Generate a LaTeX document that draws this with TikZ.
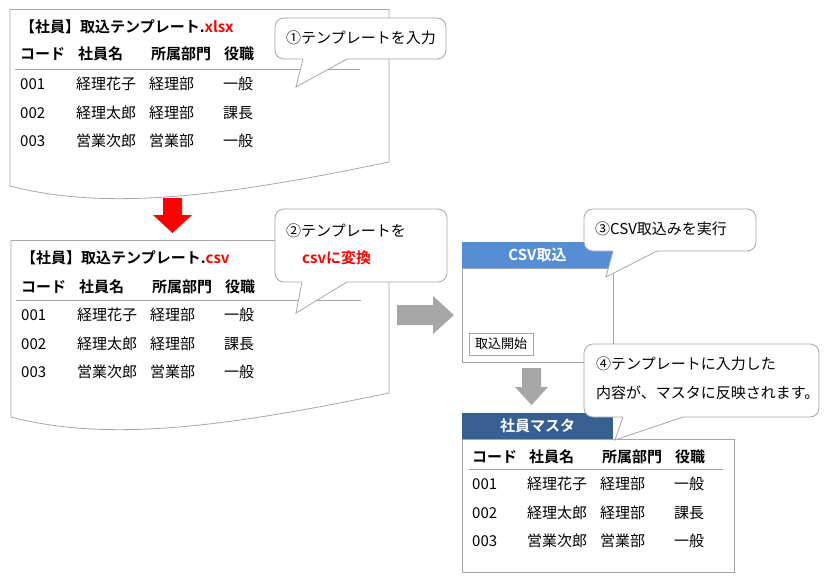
\documentclass[tikz,border=0pt]{standalone}
\usepackage{fontspec}
\setmainfont{Noto Sans CJK JP}[BoldFont={Noto Sans CJK JP Bold}]
\usepackage{tikz}
\usetikzlibrary{positioning}
\definecolor{linegray}  {RGB}{166, 166, 166}
\definecolor{arrowgray} {RGB}{166, 166, 166}
\definecolor{csvblue}   {RGB}{ 85, 142, 213}
\definecolor{masterblue}{RGB}{ 55,  96, 146}
\definecolor{xred}      {RGB}{255,   0,   0}
\tikzset{
	sheet/.style={draw=linegray, fill=white, line width=0.8pt},
	balloon/.style={draw=linegray, fill=white, line width=0.8pt, rounded corners=9pt},
	tail/.style={draw=linegray, line width=0.8pt},
	cell/.style={anchor=west, inner sep=0pt, text height=12pt, text depth=2pt, font=\fontsize{15}{18}\selectfont},
	headcell/.style={cell, font=\fontsize{15}{18}\selectfont\bfseries},
	panelhead/.style={minimum width=151pt, minimum height=26pt, inner sep=0pt, text=white, font=\fontsize{15}{18}\selectfont\bfseries},
}

\begin{document}
\begin{tikzpicture}[x=1pt,y=-1pt]
				\useasboundingbox[fill=white] (0,0) rectangle (828,581);
				% xlsx template
				\draw[sheet] (10,9.5)--(389,9.5)--(389,162) .. controls (230,195) and (110,212) .. (10,186)--cycle;
				\node[headcell] (xtitle) at (20,27) {【社員】取込テンプレート.\textcolor{xred}{xlsx}};
				\node[headcell] (xh1) at (20,54) {コード};
				\node[headcell] (xh2) at (78,54) {社員名};
				\node[headcell] (xh3) at (151,54) {所属部門};
				\node[headcell] (xh4) at (224,54) {役職};
				\draw[linegray] (15,69)--(360,69);
				\node[cell] (xa1) at (20,84) {001};
				\node[cell] (xa2) at (76,84) {経理花子};
				\node[cell] (xa3) at (149,84) {経理部};
				\node[cell] (xa4) at (223,84) {一般};
				\node[cell] (xb1) at (20,113) {002};
				\node[cell] (xb2) at (76,113) {経理太郎};
				\node[cell] (xb3) at (149,113) {経理部};
				\node[cell] (xb4) at (223,113) {課長};
				\node[cell] (xc1) at (20,141) {003};
				\node[cell] (xc2) at (76,141) {営業次郎};
				\node[cell] (xc3) at (149,141) {営業部};
				\node[cell] (xc4) at (223,141) {一般};
				% red arrow
				\fill[xred] (163,198)--(182,198)--(182,215)--(192,215)--(172.5,233)--(153,215)--(163,215)--cycle;
				% csv template
				\draw[sheet] (11,240.5)--(389,240.5)--(389,393) .. controls (230,426) and (110,443) .. (11,417)--cycle;
				\node[headcell] (ctitle) at (21,258) {【社員】取込テンプレート.\textcolor{xred}{csv}};
				\node[headcell] (ch1) at (21,287) {コード};
				\node[headcell] (ch2) at (79,287) {社員名};
				\node[headcell] (ch3) at (152,287) {所属部門};
				\node[headcell] (ch4) at (225,287) {役職};
				\draw[linegray] (16,300)--(361,300);
				\node[cell] (ca1) at (21,315) {001};
				\node[cell] (ca2) at (77,315) {経理花子};
				\node[cell] (ca3) at (150,315) {経理部};
				\node[cell] (ca4) at (224,315) {一般};
				\node[cell] (cb1) at (21,344) {002};
				\node[cell] (cb2) at (77,344) {経理太郎};
				\node[cell] (cb3) at (150,344) {経理部};
				\node[cell] (cb4) at (224,344) {課長};
				\node[cell] (cc1) at (21,372) {003};
				\node[cell] (cc2) at (77,372) {営業次郎};
				\node[cell] (cc3) at (150,372) {営業部};
				\node[cell] (cc4) at (224,372) {一般};
				% gray arrows
				\fill[arrowgray] (397,305)--(433,305)--(433,296)--(454,315)--(433,334)--(433,325)--(397,325)--cycle;
				\fill[arrowgray] (522,368)--(541,368)--(541,387)--(548,387)--(531.5,405)--(515,387)--(522,387)--cycle;
				% csv import panel
				\node[panelhead, fill=csvblue] (csvhead) at (537.5,255) {CSV取込};
				\draw[linegray, line width=0.8pt] (462,268) rectangle (613,362);
				\node[draw=linegray, minimum width=64pt, minimum height=22pt, inner sep=0pt, font=\fontsize{13}{15}\selectfont] (startbtn) at (501,344) {取込開始};
				% master
				\node[panelhead, fill=masterblue] (masterhead) at (537.5,426) {社員マスタ};
				\draw[linegray, line width=0.8pt] (462,439) rectangle (734,572);
				\node[headcell] (mh1) at (472,457) {コード};
				\node[headcell] (mh2) at (529,457) {社員名};
				\node[headcell] (mh3) at (602,457) {所属部門};
				\node[headcell] (mh4) at (675,457) {役職};
				\draw[linegray] (469,469)--(723,469);
				\node[cell] (ma1) at (472,484) {001};
				\node[cell] (ma2) at (527,484) {経理花子};
				\node[cell] (ma3) at (600,484) {経理部};
				\node[cell] (ma4) at (674,484) {一般};
				\node[cell] (mb1) at (472,513) {002};
				\node[cell] (mb2) at (527,513) {経理太郎};
				\node[cell] (mb3) at (600,513) {経理部};
				\node[cell] (mb4) at (674,513) {課長};
				\node[cell] (mc1) at (472,541) {003};
				\node[cell] (mc2) at (527,541) {営業次郎};
				\node[cell] (mc3) at (600,541) {営業部};
				\node[cell] (mc4) at (674,541) {一般};
				% callouts
				\draw[balloon] (275,18) rectangle (446,59);
				\fill[white] (303,57)--(303,59)--(296,87)--(347,59)--(347,57)--cycle;
				\draw[tail] (303,59)--(296,87)--(347,59);
				\node[cell] (note1) at (286,38) {①テンプレートを入力};
				\draw[balloon] (275,209) rectangle (447,282);
				\fill[white] (302,280)--(302,282)--(296,313)--(347,282)--(347,280)--cycle;
				\draw[tail] (302,282)--(296,313)--(347,282);
				\node[cell] (note2) at (286,231) {②テンプレートを};
				\node[headcell, text=xred] (note2b) at (302,258) {csvに変換};
				\draw[balloon] (584,209) rectangle (756,251);
				\fill[white] (613,249)--(613,251)--(606,277)--(657,251)--(657,249)--cycle;
				\draw[tail] (613,251)--(606,277)--(657,251);
				\node[cell] (note3) at (595,229) {③CSV取込みを実行};
				\draw[balloon] (584,344) rectangle (819,417);
				\fill[white] (623,415)--(623,417)--(615,440)--(683,417)--(683,415)--cycle;
				\draw[tail] (623,417)--(615,440)--(683,417);
				\node[cell] (note4) at (596,364) {④テンプレートに入力した};
				\node[cell] (note4b) at (596,393) {内容が、マスタに反映されます。};
			\end{tikzpicture}
\end{document}
